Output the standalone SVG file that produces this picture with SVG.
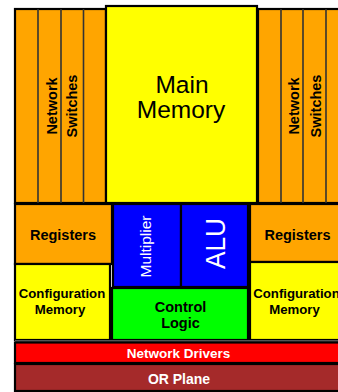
<svg xmlns="http://www.w3.org/2000/svg" width="338" height="392" viewBox="0 0 338 392">
<style>
.b{stroke:#000;stroke-width:2.2}
.d{stroke:#333;stroke-width:1.6}
.or{fill:#FFA500}.ye{fill:#FFFF00}.bl{fill:#0000FF}.gr{fill:#00FF00}.rd{fill:#FF0000}.br{fill:#A52A2A}
.t{font-family:"Liberation Sans",Arial,sans-serif;text-anchor:middle}
.bd{font-weight:bold}
.k{fill:#000}.w{fill:#fff}
</style>
<rect width="338" height="392" fill="#fff"/>
<g id="switches-left">
<rect class="b or" x="15" y="9" width="91" height="194"/>
<line class="d" x1="38" y1="9" x2="38" y2="203"/>
<line class="d" x1="61" y1="9" x2="61" y2="203"/>
<line class="d" x1="83.5" y1="9" x2="83.5" y2="203"/>
<text class="t bd k" font-size="14.5" transform="translate(56.5,106) rotate(-90)">Network</text>
<text class="t bd k" font-size="14.5" transform="translate(76.5,106) rotate(-90)">Switches</text>
</g>
<g id="main-memory">
<rect class="b ye" x="106" y="6" width="151" height="197"/>
<text class="t k" font-size="24.5" x="182" y="93">Main</text>
<text class="t k" font-size="24.5" x="181" y="118">Memory</text>
</g>
<g id="switches-right">
<rect class="b or" x="258" y="9" width="92" height="194"/>
<line class="d" x1="281" y1="9" x2="281" y2="203"/>
<line class="d" x1="303" y1="9" x2="303" y2="203"/>
<line class="d" x1="326" y1="9" x2="326" y2="203"/>
<text class="t bd k" font-size="14.5" transform="translate(298.5,106) rotate(-90)">Network</text>
<text class="t bd k" font-size="14.5" transform="translate(321,106) rotate(-90)">Switches</text>
</g>
<g id="registers-left">
<rect class="b or" x="15" y="204" width="97" height="60"/>
<text class="t bd k" font-size="14.5" x="63" y="240">Registers</text>
</g>
<g id="config-left">
<rect class="b ye" x="15" y="264" width="95" height="76"/>
<text class="t bd k" font-size="13.2" x="62" y="297.5">Configuration</text>
<text class="t bd k" font-size="13.2" x="60" y="314">Memory</text>
</g>
<g id="multiplier">
<rect class="b bl" x="113" y="204" width="68" height="83"/>
<text class="t w" font-size="15.5" transform="translate(151,246.5) rotate(-90)">Multiplier</text>
</g>
<g id="alu">
<rect class="b bl" x="181" y="204" width="67" height="83"/>
<text class="t w" font-size="28" transform="translate(224.5,243.5) rotate(-90)" textLength="51" lengthAdjust="spacingAndGlyphs">ALU</text>
</g>
<g id="control-logic">
<rect class="b gr" x="112" y="288" width="136" height="52"/>
<text class="t bd k" font-size="14.5" x="180.5" y="311.5">Control</text>
<text class="t bd k" font-size="14.5" x="180.5" y="328">Logic</text>
</g>
<g id="registers-right">
<rect class="b or" x="250" y="204" width="100" height="58"/>
<text class="t bd k" font-size="14.5" x="297.5" y="240">Registers</text>
</g>
<g id="config-right">
<rect class="b ye" x="250" y="262" width="100" height="78"/>
<text class="t bd k" font-size="13.2" x="296.5" y="297.5">Configuration</text>
<text class="t bd k" font-size="13.2" x="294.5" y="314">Memory</text>
</g>
<line x1="15" y1="341" x2="338" y2="341" stroke="#555" stroke-width="2"/>
<g id="network-drivers">
<rect class="b rd" x="15" y="342.5" width="340" height="20.5"/>
<text class="t bd w" font-size="13.5" x="178.5" y="357.5">Network Drivers</text>
</g>
<g id="or-plane">
<rect class="b br" x="15" y="364" width="340" height="27"/>
<text class="t bd w" font-size="14" x="179" y="384">OR Plane</text>
</g>
</svg>
